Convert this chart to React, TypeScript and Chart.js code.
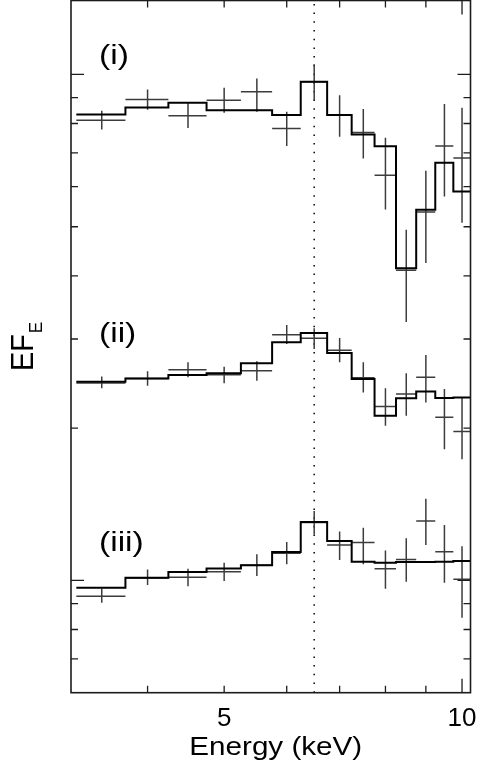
import React, { useEffect, useRef } from "react";
import { Chart, registerables } from "chart.js";

Chart.register(...registerables);

// ---- data (energies in keV, fluxes in EF_E units as plotted on the log axis) ----
const binLow = [3.25, 3.75, 4.25, 4.75, 5.25, 5.75, 6.25, 6.75, 7.25, 7.75, 8.25, 8.75, 9.25, 9.75];
const binHigh = [3.75, 4.25, 4.75, 5.25, 5.75, 6.25, 6.75, 7.25, 7.75, 8.25, 8.75, 9.25, 9.75, 10.25];
const binCenter = [3.5, 4.0, 4.5, 5.0, 5.5, 6.0, 6.5, 7.0, 7.5, 8.0, 8.5, 9.0, 9.5, 10.0];

// spectrum (i)
const data1 = [8.12, 8.92, 8.29, 8.89, 9.24, 7.82, 9.67, 8.31, 7.68, 6.32, 4.10, 5.35, 7.22, 6.84];
const hi1 = [8.48, 9.34, 8.79, 9.41, 9.82, 8.44, 10.47, 9.10, 8.54, 7.50, 4.93, 6.45, 8.74, 8.59];
const lo1 = [7.78, 8.52, 7.84, 8.40, 8.44, 7.22, 8.89, 7.53, 6.82, 5.41, 3.24, 4.24, 5.74, 5.09];
const model1 = [8.33, 8.60, 8.79, 8.50, 8.50, 8.31, 9.67, 8.31, 7.61, 7.21, 4.14, 5.40, 6.69, 5.87];

// spectrum (ii)
const data2 = [2.455, 2.508, 2.609, 2.550, 2.597, 3.060, 3.010, 2.851, 2.515, 2.208, 2.335, 2.520, 2.102, 1.970];
const hi2 = [2.531, 2.590, 2.698, 2.645, 2.711, 3.199, 3.151, 3.015, 2.698, 2.397, 2.567, 2.790, 2.389, 2.300];
const lo2 = [2.397, 2.426, 2.520, 2.452, 2.481, 2.934, 2.868, 2.698, 2.353, 2.021, 2.115, 2.248, 1.817, 1.736];
const model2 = [2.470, 2.508, 2.546, 2.567, 2.686, 2.955, 3.084, 2.815, 2.500, 2.115, 2.290, 2.363, 2.293, 2.300];

// spectrum (iii)
const data3 = [0.931, 1.011, 1.015, 1.040, 1.071, 1.132, 1.301, 1.175, 1.188, 1.055, 1.100, 1.311, 1.140, 1.005];
const hi3 = [0.964, 1.051, 1.055, 1.084, 1.126, 1.191, 1.372, 1.249, 1.271, 1.146, 1.211, 1.451, 1.287, 1.169];
const lo3 = [0.903, 0.979, 0.974, 0.997, 1.020, 1.076, 1.233, 1.097, 1.076, 0.963, 0.994, 1.175, 0.990, 0.844];
const model3 = [0.967, 1.012, 1.039, 1.056, 1.072, 1.138, 1.304, 1.196, 1.089, 1.084, 1.087, 1.087, 1.089, 1.092];

const lineEnergy = 6.5;
const panelLabels = ["(i)", "(ii)", "(iii)"];

// axes
const xMin = 3.2;
const xMax = 10.25;
const yMin = 0.6;
const yMax = 14;
const xTickValues = [4, 5, 6, 7, 8, 9, 10];
const xLabelled = [5, 10];
const xMajor = [10];
const yTickValues = [0.7, 0.8, 0.9, 1, 2, 3, 4, 5, 6, 7, 8, 9, 10];
const yMajor = [1, 10];
const xTitle = "Energy (keV)";

const FONT = '"Liberation Sans", Arial, Helvetica, sans-serif';

function crossPoints(val: number[], lo: number[], hi: number[]) {
  const pts: { x: number; y: number | null }[] = [];
  for (let i = 0; i < val.length; i++) {
    pts.push({ x: binLow[i], y: val[i] });
    pts.push({ x: binHigh[i], y: val[i] });
    pts.push({ x: binCenter[i], y: null });
    pts.push({ x: binCenter[i], y: lo[i] });
    pts.push({ x: binCenter[i], y: hi[i] });
    pts.push({ x: binCenter[i], y: null });
  }
  return pts;
}

function stepPoints(model: number[]) {
  const pts = model.map((m, i) => ({ x: binLow[i], y: m }));
  pts.push({ x: binHigh[model.length - 1], y: model[model.length - 1] });
  return pts;
}

function drawStretched(ctx: CanvasRenderingContext2D, text: string, x: number, y: number, size: number, sx: number, align: CanvasTextAlign) {
  ctx.save();
  ctx.translate(x, y);
  ctx.scale(sx, 1);
  ctx.font = `${size}px ${FONT}`;
  ctx.textAlign = align;
  ctx.textBaseline = "alphabetic";
  ctx.fillText(text, 0, 0);
  ctx.restore();
}

const framePlugin = {
  id: "frameAndLabels",
  afterDatasetsDraw(chart: any) {
    const { ctx, chartArea: a, scales } = chart;
    const xs = scales.x;
    const ys = scales.y;
    ctx.save();
    ctx.strokeStyle = "#1c1c1c";
    ctx.lineWidth = 1.3;
    ctx.beginPath();
    for (const v of xTickValues) {
      const px = xs.getPixelForValue(v);
      const len = xMajor.includes(v) ? 14 : 7;
      ctx.moveTo(px, a.bottom);
      ctx.lineTo(px, a.bottom - len);
      ctx.moveTo(px, a.top);
      ctx.lineTo(px, a.top + len);
    }
    for (const v of yTickValues) {
      const py = ys.getPixelForValue(v);
      const len = yMajor.includes(v) ? 13 : 7;
      ctx.moveTo(a.left, py);
      ctx.lineTo(a.left + len, py);
      ctx.moveTo(a.right, py);
      ctx.lineTo(a.right - len, py);
    }
    ctx.stroke();
    ctx.lineWidth = 1.6;
    ctx.strokeRect(a.left, a.top, a.right - a.left, a.bottom - a.top);

    ctx.fillStyle = "#000";
    // panel labels
    const labelY = [64, 342, 551];
    panelLabels.forEach((t, i) => drawStretched(ctx, t, a.left + 28, labelY[i], 28, 1.2, "left"));

    // x title
    drawStretched(ctx, xTitle, (a.left + a.right) / 2 + 5, 755, 26, 1.14, "center");

    // y title EF_E (rotated)
    ctx.save();
    ctx.translate(33, 371);
    ctx.rotate(-Math.PI / 2);
    ctx.scale(0.9, 1);
    ctx.font = `32px ${FONT}`;
    ctx.textAlign = "left";
    ctx.textBaseline = "alphabetic";
    ctx.fillText("EF", 0, 0);
    const w = ctx.measureText("EF").width;
    ctx.font = `19px ${FONT}`;
    ctx.fillText("E", w + 1, 9);
    ctx.restore();

    ctx.restore();
  },
};

export default function App() {
  const ref = useRef<HTMLCanvasElement | null>(null);

  useEffect(() => {
    if (!ref.current) return;
    const crossStyle = {
      borderColor: "#3c3c3c",
      borderWidth: 1.5,
      pointRadius: 0,
      spanGaps: false,
      fill: false,
      order: 2,
    };
    const modelStyle = {
      borderColor: "#000000",
      borderWidth: 2,
      pointRadius: 0,
      stepped: "before" as const,
      fill: false,
      order: 1,
    };
    const chart = new Chart(ref.current, {
      type: "line",
      data: {
        datasets: [
          { label: "model (i)", data: stepPoints(model1), ...modelStyle },
          { label: "model (ii)", data: stepPoints(model2), ...modelStyle },
          { label: "model (iii)", data: stepPoints(model3), ...modelStyle },
          { label: "data (i)", data: crossPoints(data1, lo1, hi1), ...crossStyle },
          { label: "data (ii)", data: crossPoints(data2, lo2, hi2), ...crossStyle },
          { label: "data (iii)", data: crossPoints(data3, lo3, hi3), ...crossStyle },
          {
            label: "line",
            data: [
              { x: lineEnergy, y: yMin },
              { x: lineEnergy, y: yMax },
            ],
            borderColor: "#000",
            borderWidth: 1.5,
            borderDash: [1.5, 7.2],
            pointRadius: 0,
            fill: false,
            order: 3,
          },
        ],
      },
      options: {
        animation: false,
        responsive: false,
        maintainAspectRatio: false,
        layout: { padding: { top: 0.5, right: 9.5, bottom: 0, left: 0 } },
        plugins: { legend: { display: false }, tooltip: { enabled: false } },
        events: [],
        scales: {
          x: {
            type: "logarithmic",
            position: "bottom",
            min: xMin,
            max: xMax,
            grid: { display: false, drawTicks: false },
            border: { display: false },
            afterBuildTicks: (scale: any) => {
              scale.ticks = xTickValues.map((v) => ({ value: v }));
            },
            afterFit: (scale: any) => {
              scale.height = 773 - 692.7;
              scale.paddingLeft = 0;
              scale.paddingRight = 0;
            },
            ticks: {
              autoSkip: false,
              maxRotation: 0,
              minRotation: 0,
              padding: 11,
              color: "#000",
              font: { family: FONT, size: 26 },
              callback: (v: any) => (xLabelled.includes(Number(v)) ? String(v) : ""),
            },
          },
          y: {
            type: "logarithmic",
            position: "left",
            min: yMin,
            max: yMax,
            grid: { display: false, drawTicks: false },
            border: { display: false },
            ticks: { display: false },
            afterBuildTicks: (scale: any) => {
              scale.ticks = yTickValues.map((v) => ({ value: v }));
            },
            afterFit: (scale: any) => {
              scale.width = 71;
              scale.paddingTop = 0;
              scale.paddingBottom = 0;
            },
          },
        },
      },
      plugins: [framePlugin],
    } as any);
    return () => chart.destroy();
  }, []);

  return (
    <div style={{ position: "absolute", left: 0, top: 0, width: 480, height: 773, background: "#fff" }}>
      <canvas ref={ref} width={480} height={773} style={{ width: 480, height: 773, display: "block" }} />
    </div>
  );
}
